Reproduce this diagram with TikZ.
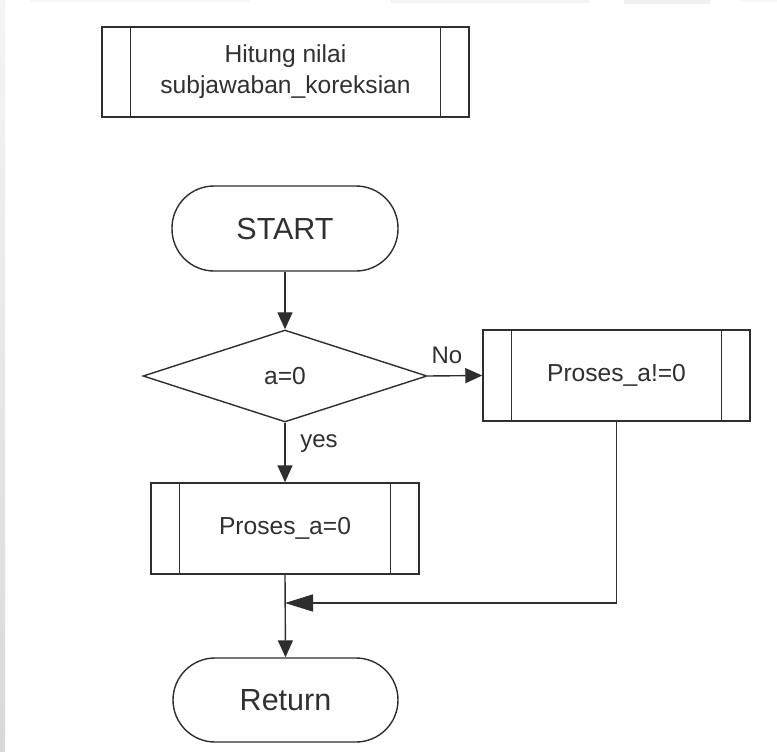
\documentclass[tikz,border=0pt]{standalone}
\usepackage{fontspec}
\setmainfont{Liberation Sans}
\usetikzlibrary{shapes.geometric,arrows.meta}

\definecolor{inkline}{HTML}{2E2E2E}
\definecolor{inktext}{HTML}{303030}

\tikzset{
  base/.style={draw=inkline, line width=1.4pt, text=inktext, inner sep=0pt,
    font=\fontsize{24.6}{31}\selectfont, align=center},
  terminal/.style={base, rectangle, rounded corners=42pt,
    minimum width=226pt, minimum height=85pt,
    font=\fontsize{30.5}{36}\selectfont},
  decision/.style={base, diamond, minimum width=284pt, minimum height=92pt},
  subproc/.style={base, rectangle, minimum height=91pt,
    path picture={
      \draw[inkline, line width=1.4pt]
        ([xshift=28.5pt]path picture bounding box.north west) --
        ([xshift=28.5pt]path picture bounding box.south west)
        ([xshift=-28.5pt]path picture bounding box.north east) --
        ([xshift=-28.5pt]path picture bounding box.south east);
    }},
  flow/.style={draw=inkline, line width=1.4pt,
    -{Triangle[length=17pt,width=15pt]}},
  joinflow/.style={draw=inkline, line width=1.4pt,
    -{Triangle[length=28pt,width=17pt]}},
  tag/.style={text=inktext, inner sep=0pt, anchor=base,
    font=\fontsize{24}{28}\selectfont},
}

\begin{document}
\begin{tikzpicture}[x=1pt,y=-1pt]
  \useasboundingbox (0,0) rectangle (777,752);
  \fill[white] (0,0) rectangle (777,752);

  % faint background marks along the edges
  \shade[top color=black!4, bottom color=black!15] (0,0) rectangle (5,752);
  \fill[black!5, rounded corners=2pt] (390,-4) rectangle (590,3);
  \fill[black!6, rounded corners=2pt] (624,-4) rectangle (710,4);
  \fill[black!4] (740,-4) rectangle (777,2.5);
  \fill[black!3] (30,-4) rectangle (250,2);

  % caption box
  \node[subproc, minimum width=367pt, minimum height=90pt] (title) at (285.5,72)
    {Hitung nilai\\subjawaban\_koreksian};

  % flowchart
  \node[terminal] (start) at (285,228.5) {START};
  \node[decision] (cond) at (285,376) {a=0};
  \node[subproc, minimum width=267pt] (procNo) at (616.5,375.5) {Proses\_a!=0};
  \node[subproc, minimum width=268pt] (procYes) at (285,528.5) {Proses\_a=0};
  \node[terminal, minimum width=225pt, minimum height=84pt] (ret) at (285.5,700) {Return};

  \coordinate (merge) at (285,603);

  \draw[flow] (start) -- (cond);
  \draw[flow] (cond.east) -- (procNo.west);
  \draw[flow] (cond.south) -- (procYes.north);
  \draw[flow] (procYes.south) -- (ret.north);
  \draw[joinflow] (procNo.south) |- (merge);

  \node[tag] (lblNo) at (447,363) {No};
  \node[tag] (lblYes) at (319,447.5) {yes};
\end{tikzpicture}
\end{document}
